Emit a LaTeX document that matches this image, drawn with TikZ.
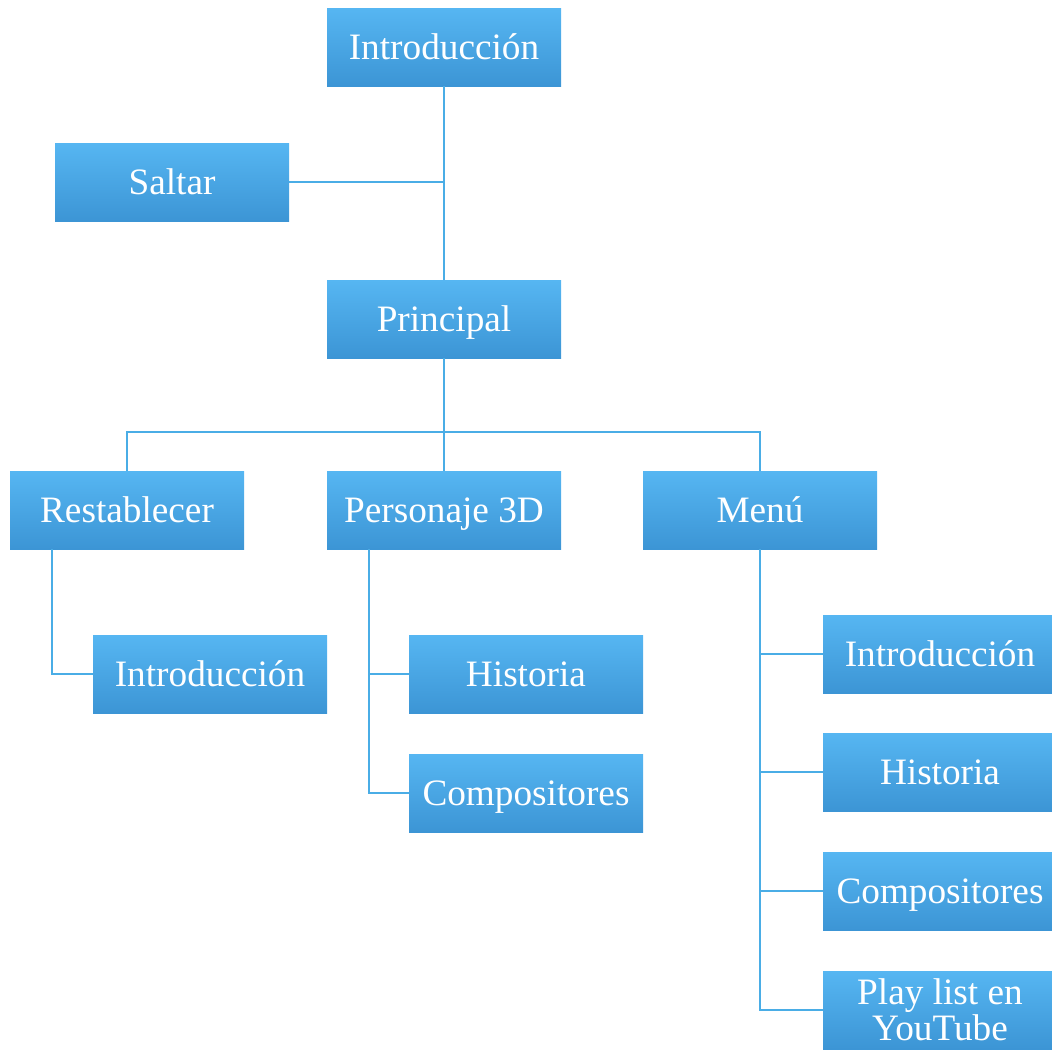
\documentclass[tikz,border=0pt]{standalone}
\usepackage{fontspec}
\setmainfont{Liberation Serif}
\usepackage{xcolor}
\usetikzlibrary{positioning}

\definecolor{cajaarriba}{HTML}{56B6F2}
\definecolor{cajaabajo}{HTML}{3C95D5}
\definecolor{linea}{HTML}{4AADE6}

\tikzset{
    caja/.style={shading=axis,top color=cajaarriba,bottom color=cajaabajo,
        text=white,minimum width=5.85cm,minimum height=1.95cm,inner sep=0pt,
        text height=0.62cm,text depth=0cm,
        align=center,font=\fontsize{26.5}{25}\selectfont},
    rama/.style={draw=linea,line width=1.4pt}
}

\begin{document}
\begin{tikzpicture}

        \useasboundingbox (0,0) rectangle (26.3,-26.225);

        \node[caja] (intro) at (11.1,-1.175) {Introducción};
        \node[caja] (saltar) at (4.3,-4.55) {Saltar};
        \node[caja] (principal) at (11.1,-7.975) {Principal};

        \node[caja] (restablecer) at (3.175,-12.75) {Restablecer};
        \node[caja] (personaje) at (11.1,-12.75) {Personaje 3D};
        \node[caja] (menu) at (19,-12.75) {Menú};

        \node[caja] (rintro) at (5.25,-16.85) {Introducción};
        \node[caja] (phist) at (13.15,-16.85) {Historia};
        \node[caja] (pcomp) at (13.15,-19.825) {Compositores};

        \node[caja] (mintro) at (23.5,-16.35) {Introducción};
        \node[caja] (mhist) at (23.5,-19.3) {Historia};
        \node[caja] (mcomp) at (23.5,-22.275) {Compositores};
        \node[caja,text height=1.5cm] (mplay) at (23.5,-25.25) {Play list en\\YouTube};

        % tronco
        \draw[rama] (intro.south) -- (principal.north);
        \draw[rama] (saltar.east) -- (saltar.east -| intro.south);

        \coordinate (bus) at (11.1,-10.8);
        \draw[rama] (principal.south) -- (bus);
        \draw[rama] (restablecer.north) |- (bus) -| (menu.north);
        \draw[rama] (bus) -- (personaje.north);

        % hijos
        \draw[rama] ([xshift=1.05cm]restablecer.south west) |- (rintro.west);
        \draw[rama] ([xshift=1.05cm]personaje.south west) |- (phist.west);
        \draw[rama] ([xshift=1.05cm]personaje.south west) |- (pcomp.west);

        \draw[rama] (menu.south) |- (mintro.west);
        \draw[rama] (menu.south) |- (mhist.west);
        \draw[rama] (menu.south) |- (mcomp.west);
        \draw[rama] (menu.south) |- (mplay.west);

    \end{tikzpicture}
\end{document}
